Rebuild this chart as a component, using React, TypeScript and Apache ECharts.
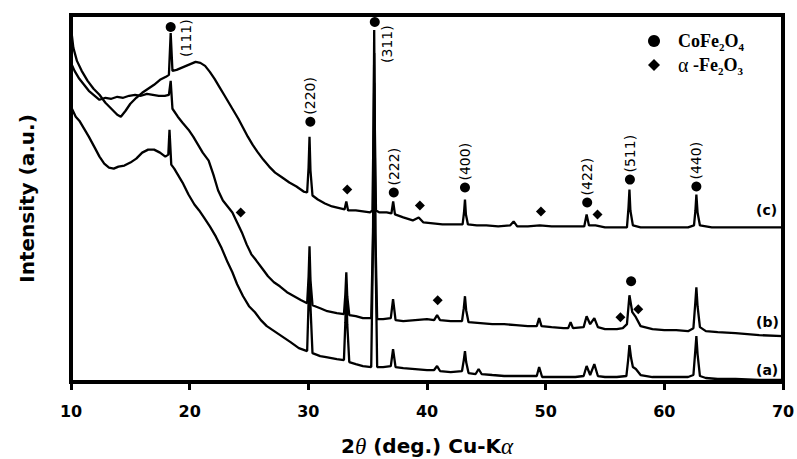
import React, { useEffect, useRef } from "react";
import * as echarts from "echarts";

// 2θ (deg.) vs intensity (a.u.)
const curveA: number[][] = [
  [10.0,276],[10.4,266],[10.7,262],[11.1,254],[11.5,246],[12.0,235],[12.4,226],[12.8,219],[13.2,215],[13.6,214],[14.0,216],[14.5,217],[15.0,220],[15.5,224],[16.0,230],[16.5,233],[17.0,233],[17.5,230],[17.95,226],[18.2,228],[18.3,253],[18.45,218],[18.7,214],[19.0,208],[19.4,200],[19.9,188],[20.4,178],[20.8,172],[21.2,165],[21.7,156],[22.2,146],[22.7,134],[23.2,120],[23.6,110],[24.0,98],[24.5,86],[25.0,76],[25.5,70],[26.0,62],[26.5,56],[27.0,52],[27.5,48],[28.0,44],[28.5,40],[29.2,34],[29.9,31],[30.02,80],[30.1,124],[30.18,76],[30.35,29],[31.0,26],[31.5,25],[32.4,23],[33.0,22],[33.12,60],[33.2,98],[33.28,58],[33.45,20],[34.0,18],[34.6,16],[35.3,15],[35.45,140],[35.55,300],[35.65,140],[35.8,15],[36.3,15],[36.95,16],[37.14,33],[37.35,15],[38.0,14],[39.0,13],[40.0,12],[40.6,12],[40.85,16],[41.1,11],[42.0,10],[42.95,11],[43.1,22],[43.2,31],[43.3,20],[43.5,9],[44.1,8],[44.35,13],[44.6,8],[45.5,7],[46.5,6],[47.5,6],[48.5,6],[49.25,6],[49.45,15],[49.7,5],[50.5,5],[51.5,5],[52.5,5],[53.2,6],[53.45,16],[53.75,7],[54.1,18],[54.4,6],[55.0,5],[56.0,5],[56.8,6],[56.95,22],[57.06,37],[57.2,24],[57.35,15],[57.6,13],[58.0,7],[59.0,5],[60.0,5],[61.0,5],[62.0,5],[62.45,7],[62.6,30],[62.7,46],[62.8,28],[63.0,6],[63.5,4],[64.5,3],[66.0,3],[68.0,2],[70.0,2]
];

const curveB: number[][] = [
  [10.0,320],[10.3,312],[10.7,304],[11.1,298],[11.5,292],[12.0,287],[12.4,283],[12.9,285],[13.4,284],[13.9,286],[14.4,285],[14.9,287],[15.4,288],[15.9,287],[16.4,289],[16.9,288],[17.4,287],[17.9,287],[18.25,288],[18.4,302],[18.55,274],[19.0,266],[19.4,260],[19.9,253],[20.3,246],[20.7,238],[21.1,230],[21.6,222],[22.0,208],[22.4,192],[22.8,182],[23.2,176],[23.6,170],[24.0,160],[24.4,150],[24.8,138],[25.2,128],[25.6,122],[26.1,114],[26.6,106],[27.1,100],[27.6,96],[28.2,90],[28.8,86],[29.4,82],[29.9,79],[30.02,105],[30.1,136],[30.18,102],[30.35,77],[31.0,74],[31.6,71],[32.4,69],[33.0,68],[33.12,88],[33.2,110],[33.28,86],[33.45,67],[34.0,66],[34.6,64],[35.3,64],[35.45,150],[35.55,330],[35.65,150],[35.8,63],[36.3,63],[36.95,64],[37.14,83],[37.35,62],[38.0,61],[39.0,62],[40.0,63],[40.6,62],[40.85,67],[41.1,62],[42.0,61],[42.95,61],[43.1,74],[43.2,86],[43.3,72],[43.5,60],[44.5,59],[45.5,58],[46.5,58],[47.5,57],[48.5,56],[49.25,56],[49.45,64],[49.65,56],[50.5,55],[51.5,54],[51.9,54],[52.1,60],[52.3,54],[53.2,55],[53.45,66],[53.75,58],[54.1,64],[54.4,55],[55.0,53],[56.0,53],[56.5,54],[56.85,58],[57.06,87],[57.3,70],[57.6,65],[58.0,56],[59.0,53],[60.0,52],[61.0,52],[62.0,51],[62.45,54],[62.6,78],[62.7,95],[62.8,76],[63.0,55],[63.5,51],[64.5,50],[66.0,49],[68.0,47],[70.0,46]
];

const curveC: number[][] = [
  [10.0,355],[10.2,335],[10.5,322],[10.9,312],[11.4,302],[11.9,294],[12.4,288],[12.9,280],[13.4,274],[13.9,268],[14.2,266],[14.6,272],[15.0,279],[15.5,285],[16.0,290],[16.5,294],[17.0,298],[17.5,303],[18.0,306],[18.25,308],[18.4,350],[18.55,312],[18.9,313],[19.3,315],[19.7,317],[20.1,319],[20.5,321],[20.9,320],[21.3,317],[21.7,311],[22.1,304],[22.5,296],[22.9,288],[23.3,280],[23.7,272],[24.1,264],[24.5,255],[24.9,246],[25.3,238],[25.7,231],[26.2,223],[26.7,216],[27.2,210],[27.8,205],[28.4,200],[29.0,196],[29.6,191],[29.9,190],[30.02,215],[30.1,246],[30.18,212],[30.35,187],[30.8,183],[31.4,179],[32.0,176],[32.7,174],[33.05,173],[33.2,181],[33.35,172],[34.0,172],[34.6,171],[35.2,170],[35.4,172],[35.5,260],[35.55,353],[35.6,260],[35.7,172],[36.0,170],[36.6,170],[37.0,169],[37.15,181],[37.3,168],[38.0,165],[38.8,162],[39.3,165],[39.7,160],[40.5,159],[41.3,158],[42.2,158],[43.0,158],[43.12,170],[43.2,183],[43.28,168],[43.45,158],[44.2,157],[45.0,157],[46.0,156],[47.0,157],[47.3,161],[47.6,156],[48.5,156],[49.5,157],[50.5,156],[51.5,156],[52.5,156],[53.25,156],[53.45,168],[53.65,157],[54.2,157],[55.0,155],[56.0,155],[56.85,155],[56.98,175],[57.06,193],[57.14,172],[57.35,157],[58.0,155],[59.0,155],[60.0,155],[61.0,155],[62.0,155],[62.5,157],[62.62,172],[62.7,188],[62.8,170],[63.0,157],[64.0,155],[65.0,155],[66.0,155],[67.0,155],[68.0,155],[69.0,155],[70.0,155]
];

const curveNames = ["(a)", "(b)", "(c)"];

// CoFe2O4 reflections (marker positions) and their Miller indices
const spinelPeaks: number[][] = [
  [18.4,356],[30.17,261],[35.6,361],[37.2,190],[43.2,195],[53.5,180],[57.1,203],[62.7,196],[57.2,101]
];
const spinelLabels = ["(111)", "(220)", "(311)", "(222)", "(400)", "(422)", "(511)", "(440)", ""];

// α-Fe2O3 reflections (marker positions)
const hematitePeaks: number[][] = [
  [24.3,170],[33.28,193],[39.4,177],[40.9,82],[49.6,171],[54.37,168],[56.3,65],[57.8,73]
];

const legendNames = ["CoFe2O4", "α-Fe2O3"];

const xMin = 10;
const xMax = 70;
const xStep = 10;

export default function App() {
  const ref = useRef<HTMLDivElement>(null);

  useEffect(() => {
    if (!ref.current) return;
    const chart = echarts.init(ref.current, undefined, { renderer: "svg" });

    const sideLabelPos: Record<string, number[]> = {
      "(111)": [20, 35],
      "(311)": [17, 46],
    };
    const endOffsets = [
      [-27, -10],
      [-27, -14],
      [-27, -17],
    ];

    const lineSeries = [curveA, curveB, curveC].map((d, i) => ({
      type: "line",
      name: curveNames[i],
      data: d,
      showSymbol: false,
      symbol: "none",
      lineStyle: { color: "#000", width: 2.3 },
      itemStyle: { color: "#000" },
      z: 2,
      endLabel: {
        show: true,
        formatter: curveNames[i],
        distance: 0,
        offset: endOffsets[i],
        fontFamily: "DejaVu Sans",
        fontWeight: "bold",
        fontSize: 14,
        color: "#000",
      },
    }));

    const circleData = spinelPeaks.map((p, i) => {
      const item: any = { value: p };
      const pos = sideLabelPos[spinelLabels[i]];
      if (pos) item.label = { position: pos };
      return item;
    });

    const option: any = {
      animation: false,
      backgroundColor: "#fff",
      grid: {
        left: 71,
        right: 14,
        top: 15,
        bottom: 77,
        containLabel: false,
        outerBoundsMode: "none",
        show: true,
        borderColor: "#000",
        borderWidth: 4,
        backgroundColor: "transparent",
      },
      legend: {
        data: legendNames,
        orient: "vertical",
        left: 648,
        top: 32,
        padding: 0,
        itemGap: 3,
        itemWidth: 12,
        itemHeight: 12,
        selectedMode: false,
        itemStyle: { color: "#000", opacity: 1 },
        formatter: (name: string) =>
          name === legendNames[0]
            ? "{g| }{t|CoFe}{s|2}{t|O}{s|4}"
            : "{g| }{a|α}{t| -Fe}{s|2}{t|O}{s|3}",
        textStyle: {
          color: "#000",
          rich: {
            g: { width: 13, fontSize: 10, lineHeight: 22 },
            t: {
              fontFamily: "Liberation Serif",
              fontWeight: "bold",
              fontSize: 18,
              lineHeight: 22,
              color: "#000",
            },
            a: {
              fontFamily: "Liberation Serif",
              fontSize: 20,
              lineHeight: 22,
              color: "#000",
            },
            s: {
              fontFamily: "Liberation Serif",
              fontWeight: "bold",
              fontSize: 11,
              lineHeight: 12,
              verticalAlign: "bottom",
              color: "#000",
            },
          },
        },
      },
      xAxis: {
        type: "value",
        min: xMin,
        max: xMax,
        interval: xStep,
        name: "{b|2}{i|θ}{b| (deg.) Cu-K}{i|α}",
        nameLocation: "middle",
        nameGap: 53,
        nameTextStyle: {
          color: "#000",
          lineHeight: 22,
          rich: {
            b: { fontFamily: "DejaVu Sans", fontWeight: "bold", fontSize: 20, lineHeight: 22, color: "#000" },
            i: { fontFamily: "Liberation Serif", fontStyle: "italic", fontSize: 23, lineHeight: 22, color: "#000" },
          },
        },
        axisLine: { show: true, lineStyle: { color: "#000", width: 4 } },
        axisTick: { show: true, inside: false, length: 8, lineStyle: { color: "#000", width: 3 } },
        axisLabel: {
          show: true,
          margin: 21,
          fontFamily: "DejaVu Sans",
          fontWeight: "bold",
          fontSize: 16,
          color: "#000",
        },
        splitLine: { show: false },
      },
      yAxis: {
        type: "value",
        min: 0,
        max: 368,
        name: "Intensity (a.u.)",
        nameLocation: "middle",
        nameRotate: 90,
        nameGap: 34,
        nameTextStyle: {
          fontFamily: "DejaVu Sans",
          fontWeight: "bold",
          fontSize: 20,
          color: "#000",
        },
        axisLine: { show: true, lineStyle: { color: "#000", width: 4 } },
        axisTick: { show: false },
        axisLabel: { show: false },
        splitLine: { show: false },
      },
      series: [
        ...lineSeries,
        {
          type: "scatter",
          name: legendNames[0],
          symbol: "circle",
          symbolSize: 10,
          itemStyle: { color: "#000", opacity: 1 },
          z: 3,
          data: circleData,
          label: {
            show: true,
            formatter: (p: any) => spinelLabels[p.dataIndex],
            position: "top",
            distance: 2,
            rotate: 90,
            align: "left",
            verticalAlign: "middle",
            fontFamily: "DejaVu Sans",
            fontSize: 14,
            color: "#000",
          },
        },
        {
          type: "scatter",
          name: legendNames[1],
          symbol: "diamond",
          symbolSize: 10,
          itemStyle: { color: "#000", opacity: 1 },
          z: 3,
          data: hematitePeaks,
        },
      ],
    };

    chart.setOption(option);
    return () => chart.dispose();
  }, []);

  return (
    <div
      ref={ref}
      style={{ position: "fixed", left: 0, top: 0, width: 797, height: 459, background: "#fff" }}
    />
  );
}
